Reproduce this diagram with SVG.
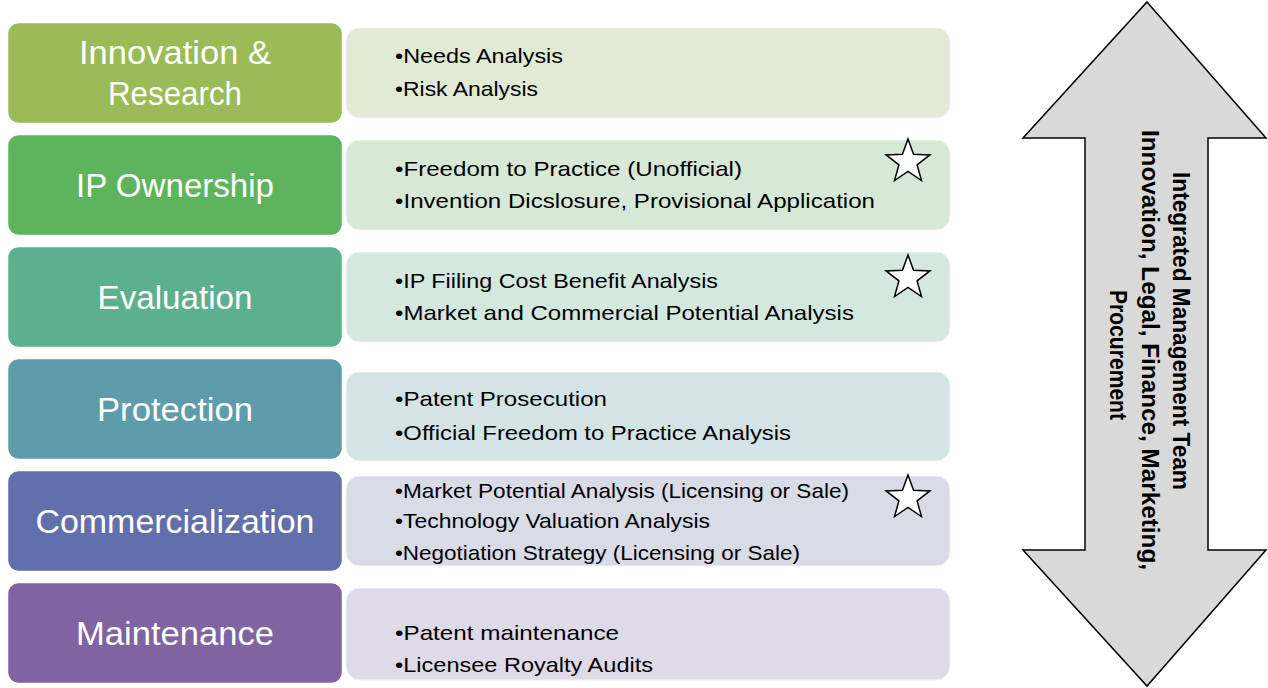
<svg xmlns="http://www.w3.org/2000/svg" width="1268" height="688" viewBox="0 0 1268 688">
<style>
.lb{stroke:#ffffff;stroke-width:1.5}
.rb{stroke:#f4f4f4;stroke-width:1}
.lt{font-family:"Liberation Sans",Arial,sans-serif;font-size:33px;fill:#ffffff;text-anchor:middle}
.rt{font-family:"Liberation Sans",Arial,sans-serif;font-size:21px;fill:#000000}
.star{fill:#ffffff;stroke:#000000;stroke-width:1.5;stroke-linejoin:miter}
.vt{font-family:"Liberation Sans",Arial,sans-serif;font-size:23px;font-weight:bold;fill:#000000;text-anchor:middle}
</style>
<defs>
<polygon id="starShape" points="0,-23 5.6,-7.7 21.9,-7.1 9.1,2.9 13.5,18.6 0,9.5 -13.5,18.6 -9.1,2.9 -21.9,-7.1 -5.6,-7.7"/>
</defs>
<rect width="1268" height="688" fill="#ffffff"/>

<g id="row1">
<rect class="rb" x="346" y="28" width="604" height="90" rx="14" fill="#E2E9D5"/>
<rect class="lb" x="7.5" y="22.5" width="335" height="101" rx="11" fill="#9BBB59"/>
<text class="lt" x="175" y="64" textLength="192" lengthAdjust="spacingAndGlyphs">Innovation &amp;</text>
<text class="lt" x="175" y="105" textLength="134" lengthAdjust="spacingAndGlyphs">Research</text>
<text class="rt" x="395" y="63" textLength="168" lengthAdjust="spacingAndGlyphs">•Needs Analysis</text>
<text class="rt" x="395" y="96" textLength="143" lengthAdjust="spacingAndGlyphs">•Risk Analysis</text>
</g>

<g id="row2">
<rect class="rb" x="346" y="140" width="604" height="90" rx="14" fill="#D7E9D6"/>
<rect class="lb" x="7.5" y="134.5" width="335" height="101" rx="11" fill="#5EB45D"/>
<text class="lt" x="175" y="197" textLength="198" lengthAdjust="spacingAndGlyphs">IP Ownership</text>
<text class="rt" x="395" y="176" textLength="347" lengthAdjust="spacingAndGlyphs">•Freedom to Practice (Unofficial)</text>
<text class="rt" x="395" y="208" textLength="480" lengthAdjust="spacingAndGlyphs">•Invention Dicslosure, Provisional Application</text>
<use href="#starShape" class="star" transform="translate(908,162)"/>
</g>

<g id="row3">
<rect class="rb" x="346" y="252" width="604" height="90" rx="14" fill="#D5E8E0"/>
<rect class="lb" x="7.5" y="246.5" width="335" height="101" rx="11" fill="#5CB08E"/>
<text class="lt" x="175" y="309" textLength="155" lengthAdjust="spacingAndGlyphs">Evaluation</text>
<text class="rt" x="395" y="288" textLength="323" lengthAdjust="spacingAndGlyphs">•IP Fiiling Cost Benefit Analysis</text>
<text class="rt" x="395" y="320" textLength="459" lengthAdjust="spacingAndGlyphs">•Market and Commercial Potential Analysis</text>
<use href="#starShape" class="star" transform="translate(908,278)"/>
</g>

<g id="row4">
<rect class="rb" x="346" y="372" width="604" height="89" rx="14" fill="#D4E4E6"/>
<rect class="lb" x="7.5" y="358.5" width="335" height="101" rx="11" fill="#5F9CAA"/>
<text class="lt" x="175" y="421" textLength="156" lengthAdjust="spacingAndGlyphs">Protection</text>
<text class="rt" x="395" y="406" textLength="212" lengthAdjust="spacingAndGlyphs">•Patent Prosecution</text>
<text class="rt" x="395" y="440" textLength="396" lengthAdjust="spacingAndGlyphs">•Official Freedom to Practice Analysis</text>
</g>

<g id="row5">
<rect class="rb" x="346" y="476" width="604" height="90" rx="14" fill="#D9DBE7"/>
<rect class="lb" x="7.5" y="470.5" width="335" height="101" rx="11" fill="#6170AA"/>
<text class="lt" x="175" y="533" textLength="279" lengthAdjust="spacingAndGlyphs">Commercialization</text>
<text class="rt" x="395" y="498" textLength="454" lengthAdjust="spacingAndGlyphs">•Market Potential Analysis (Licensing or Sale)</text>
<text class="rt" x="395" y="528" textLength="315" lengthAdjust="spacingAndGlyphs">•Technology Valuation Analysis</text>
<text class="rt" x="395" y="560" textLength="405" lengthAdjust="spacingAndGlyphs">•Negotiation Strategy (Licensing or Sale)</text>
<use href="#starShape" class="star" transform="translate(908,498)"/>
</g>

<g id="row6">
<rect class="rb" x="346" y="588" width="604" height="92" rx="14" fill="#DEDAE7"/>
<rect class="lb" x="7.5" y="582.5" width="335" height="101" rx="11" fill="#8064A2"/>
<text class="lt" x="175" y="645" textLength="198" lengthAdjust="spacingAndGlyphs">Maintenance</text>
<text class="rt" x="395" y="640" textLength="224" lengthAdjust="spacingAndGlyphs">•Patent maintenance</text>
<text class="rt" x="395" y="672" textLength="258" lengthAdjust="spacingAndGlyphs">•Licensee Royalty Audits</text>
</g>

<g id="team-arrow">
<polygon points="1147,2 1266,138 1208,138 1208,550 1266,550 1147,686 1023,550 1085,550 1085,138 1023,138" fill="#D9D9D9" stroke="#000000" stroke-width="1.5" stroke-linejoin="miter"/>
<text class="vt" transform="translate(1173,331) rotate(90)" x="0" y="0" textLength="318" lengthAdjust="spacingAndGlyphs">Integrated Management Team</text>
<text class="vt" transform="translate(1142,350) rotate(90)" x="0" y="0" textLength="440" lengthAdjust="spacingAndGlyphs">Innovation, Legal, Finance, Marketing,</text>
<text class="vt" transform="translate(1110,355) rotate(90)" x="0" y="0" textLength="130" lengthAdjust="spacingAndGlyphs">Procurement</text>
</g>
<g id="connectors"/>
</svg>
